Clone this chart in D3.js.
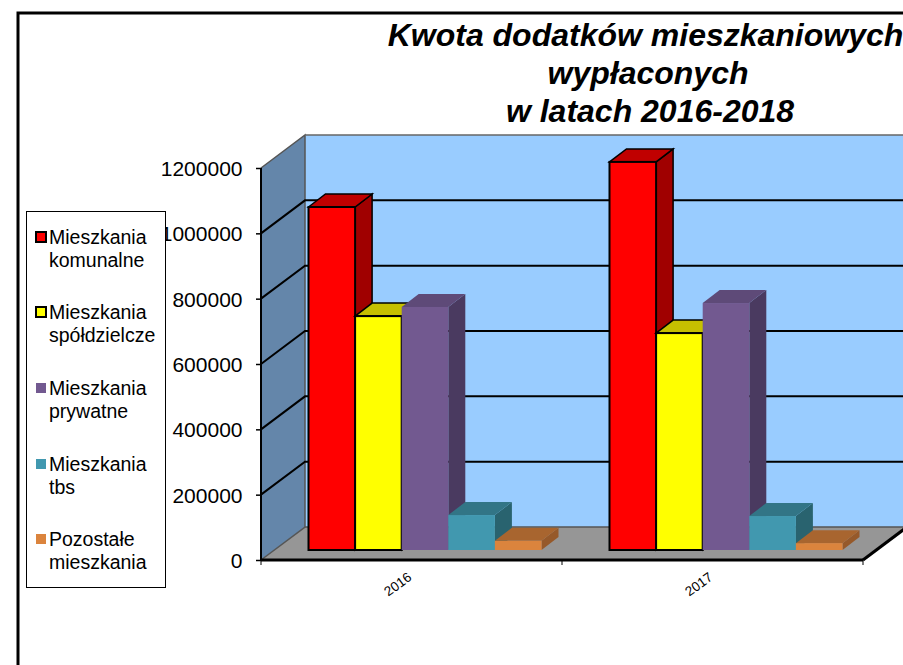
<!DOCTYPE html>
<html><head><meta charset="utf-8">
<script src="https://cdnjs.cloudflare.com/ajax/libs/d3/7.8.5/d3.min.js"></script>
<style>html,body{margin:0;padding:0;background:#fff;overflow:hidden}svg{display:block}text{font-family:"Liberation Sans",Arial,sans-serif;fill:#000}</style>
</head><body><svg id="c" width="903" height="665"></svg>
<script>
const years = ["2016","2017"];
const seriesNames = [["Mieszkania","komunalne"],["Mieszkania","spółdzielcze"],["Mieszkania","prywatne"],["Mieszkania","tbs"],["Pozostałe","mieszkania"]];
const v2016 = [1050000,716000,744000,107000,28000];
const v2017 = [1188000,664000,756000,104000,21000];
const yTicks = [0,200000,400000,600000,800000,1000000,1200000];
const titleLines = ["Kwota dodatków mieszkaniowych","wypłaconych","w latach 2016-2018"];
const front = ["#ff0000","#ffff00","#725990","#4198af","#db843d"];
const topC = ["#c00000","#c6c000","#5e4a78","#327586","#a8652f"];
const side = ["#a00000","#a09c00","#4a3a60","#29636f","#96592a"];
const outlined = [true,true,false,false,false];

const svg = d3.select("#c");
const x0=261,x1=863,y0=560,yTop=168,dx=44,dy=-33,bdx=17,bdy=-13,barBase=550;
const y = d3.scaleLinear().domain([0,1200000]).range([y0,yTop]);
const xb = d3.scaleBand().domain(years).range([x0,x1]);
const xs = d3.scaleBand().domain(d3.range(5)).range([47.5,280.5]);
const poly=(pts,fill,stroke,w)=>svg.append("polygon").attr("points",pts.map(p=>p.join(",")).join(" ")).attr("fill",fill).attr("stroke",stroke||"none").attr("stroke-width",w||0).attr("stroke-linejoin","miter");

// frame
svg.append("rect").attr("x",18).attr("y",13).attr("width",1000).attr("height",1000).attr("fill","#fff").attr("stroke","#000").attr("stroke-width",3);

// walls and floor
const bw=x1+dx;
poly([[x0,y0],[x0+dx,y0+dy],[x0+dx,yTop+dy],[x0,yTop]],"#6486aa");
poly([[x0+dx,y0+dy],[bw,y0+dy],[bw,yTop+dy],[x0+dx,yTop+dy]],"#99ccff");
poly([[x0,y0],[x0+dx,y0+dy],[bw,y0+dy],[x1,y0]],"#969696");
svg.append("path").attr("d",`M${x0},${y0}L${x0+dx},${y0+dy}V${yTop+dy}L${x0},${yTop}`).attr("fill","none").attr("stroke","#555").attr("stroke-width",1.5);
svg.append("line").attr("x1",x0+dx).attr("x2",bw).attr("y1",yTop+dy).attr("y2",yTop+dy).attr("stroke","#666").attr("stroke-width",1.5);
svg.append("line").attr("x1",x0+dx).attr("x2",bw).attr("y1",y0+dy).attr("y2",y0+dy).attr("stroke","#555").attr("stroke-width",1.5);

// gridlines
yTicks.slice(1,-1).forEach(t=>{
  const ty=y(t);
  svg.append("path").attr("d",`M${x0},${ty}L${x0+dx},${ty+dy}H${bw}`).attr("fill","none").attr("stroke","#000").attr("stroke-width",2);
});

// axes
const ax=svg.append("g").attr("transform",`translate(${x0},0)`).call(d3.axisLeft(y).tickValues(yTicks).tickFormat(d3.format("d")).tickSize(5).tickPadding(12));
ax.selectAll("text").attr("font-size",21).attr("font-family","Liberation Sans").attr("dy","0.36em").attr("dx",-1.5);
ax.select(".domain").attr("stroke-width",2).attr("d",`M0,${y0}V${yTop}`);
ax.selectAll(".tick line").attr("stroke-width",1.5);
svg.append("line").attr("x1",x0).attr("x2",x1).attr("y1",y0).attr("y2",y0).attr("stroke","#000").attr("stroke-width",3);
svg.append("line").attr("x1",x1).attr("x2",x1+dx).attr("y1",y0).attr("y2",y0+dy).attr("stroke","#000").attr("stroke-width",3);
[x0,x0+xb.bandwidth(),x1].forEach(t=>svg.append("line").attr("x1",t).attr("x2",t).attr("y1",y0).attr("y2",y0+5).attr("stroke","#000").attr("stroke-width",1));

// bars
const hScale=d=>y0-y(d);
years.forEach((yr,gi)=>{
  const vals=gi===0?v2016:v2017;
  const gx=xb(yr);
  vals.forEach((v,i)=>{
    const l=gx+xs(i),r=l+xs.bandwidth(),t=barBase-hScale(v),b=barBase;
    const st=outlined[i]?"#000":null,w=outlined[i]?2:0;
    poly([[r,b],[r+bdx,b+bdy],[r+bdx,t+bdy],[r,t]],side[i],st,outlined[i]?1.5:0);
    poly([[l,t],[l+bdx,t+bdy],[r+bdx,t+bdy],[r,t]],topC[i],st,outlined[i]?1.5:0);
    svg.append("rect").attr("x",l).attr("y",t).attr("width",r-l).attr("height",b-t).attr("fill",front[i]).attr("stroke",st||"none").attr("stroke-width",w);
  });
  const cx=gx+xb.bandwidth()/2;
  svg.append("text").attr("transform",`translate(${cx-11},${y0+28}) rotate(-36)`).attr("text-anchor","middle").attr("font-size",13.5).text(yr);
});

// title
const ty=[46,84,122];
const tx=[645.5,648,650];
titleLines.forEach((s,i)=>svg.append("text").attr("x",tx[i]).attr("y",ty[i]).attr("text-anchor","middle").attr("font-size",32).attr("font-weight","bold").attr("font-style","italic").text(s));

// legend
svg.append("rect").attr("x",26.5).attr("y",211.5).attr("width",139).attr("height",376).attr("fill","#fff").attr("stroke","#000").attr("stroke-width",1);
const legY=[237,312,388,464,539];
seriesNames.forEach((n,i)=>{
  svg.append("rect").attr("x",36).attr("y",legY[i]-5).attr("width",10).attr("height",10).attr("fill",front[i]).attr("stroke",outlined[i]?"#000":"none").attr("stroke-width",2);
  n.forEach((l,j)=>svg.append("text").attr("x",49).attr("y",legY[i]+7+j*23).attr("font-size",19.5).text(l));
});
</script></body></html>
